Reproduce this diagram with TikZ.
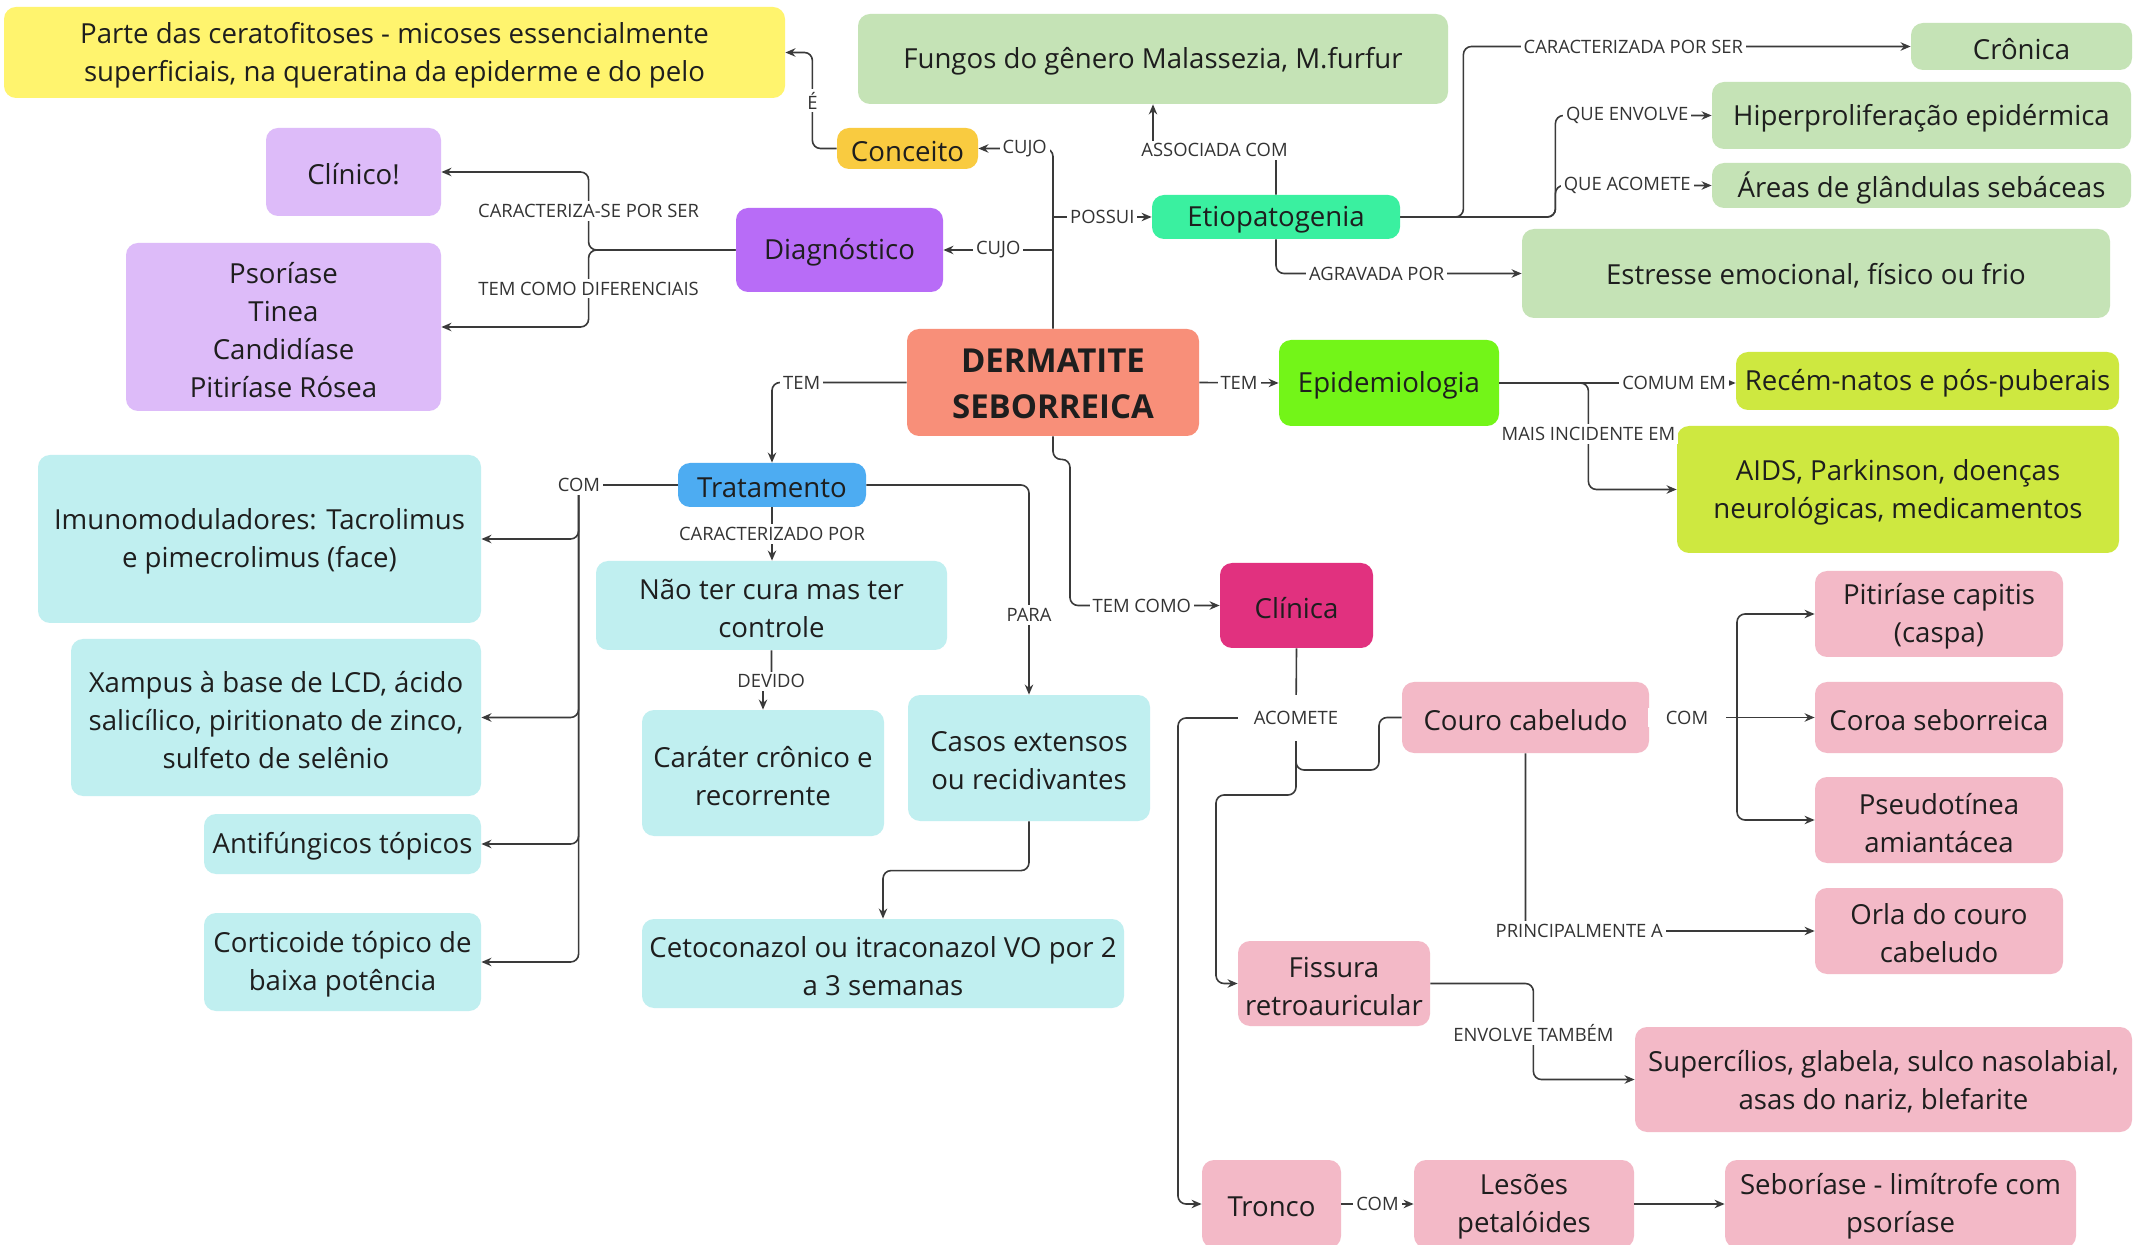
\documentclass[tikz,border=0pt]{standalone}
\usepackage{fontspec}
\setmainfont{Open Sans}
\usetikzlibrary{arrows.meta,calc}
\definecolor{cYel}{HTML}{FFF46E}
\definecolor{cGrn}{HTML}{C5E3B6}
\definecolor{cConc}{HTML}{F9CB40}
\definecolor{cLav}{HTML}{DDBBF9}
\definecolor{cDia}{HTML}{B86CF7}
\definecolor{cEtio}{HTML}{3AF0A0}
\definecolor{cDerm}{HTML}{F88F79}
\definecolor{cEpi}{HTML}{73F518}
\definecolor{cLime}{HTML}{CEE840}
\definecolor{cTra}{HTML}{4DACF2}
\definecolor{cCyan}{HTML}{C0EFF0}
\definecolor{cClin}{HTML}{E1317F}
\definecolor{cPink}{HTML}{F3B9C7}
\definecolor{txt}{HTML}{1E1E1E}
\definecolor{lnc}{HTML}{3A3A3A}
\definecolor{lblc}{HTML}{333333}
\tikzset{
  box/.style={rounded corners=6pt, inner sep=0pt},
  boxtext/.style={align=center, inner sep=0pt, text=txt,
    font=\fontsize{13.8}{19}\selectfont},
  conn/.style={draw=lnc, line width=0.8pt, rounded corners=4pt},
  arr/.style={conn, -{Stealth[length=5pt,width=4.2pt]}},
  lbl/.style={fill=white, inner sep=1.5pt, text=lblc, rounded corners=0pt,
    font=\fontsize{9.2}{11}\selectfont},
}
\newcommand{\cmbox}[8][]{%
  \node[box, fill=#7, minimum width={(#5-#3)*0.5pt}, minimum height={(#6-#4)*0.5pt}]
    (#2) at ({(#3+#5)/2},{(#4+#6)/2}) {};
  \node[boxtext, #1] at ([yshift=-1.3pt]#2.center) {#8};}
\begin{document}
\begin{tikzpicture}[x=0.5pt,y=-0.5pt]
\useasboundingbox (0,0) rectangle (2142,1245);
\fill[white] (0,0) rectangle (2142,1245);

% ---------- boxes ----------
\cmbox{yel}{4}{7}{785}{98}{cYel}{Parte das ceratofitoses - micoses essencialmente\\superficiais, na queratina da epiderme e do pelo}
\cmbox{fun}{858}{14}{1448}{104}{cGrn}{Fungos do gênero Malassezia, M.furfur}
\cmbox{conc}{837}{128}{978}{169}{cConc}{Conceito}
\cmbox{cli}{266}{128}{441}{216}{cLav}{Clínico!}
\cmbox{dia}{736}{208}{943}{292}{cDia}{Diagnóstico}
\cmbox{pso}{126}{243}{441}{411}{cLav}{Psoríase\\Tinea\\Candidíase\\Pitiríase Rósea}
\cmbox{etio}{1152}{195}{1400}{239}{cEtio}{Etiopatogenia}
\cmbox{cro}{1911}{23}{2132}{70}{cGrn}{Crônica}
\cmbox{hip}{1712}{82}{2131}{149}{cGrn}{Hiperproliferação epidérmica}
\cmbox{are}{1712}{163}{2131}{208}{cGrn}{Áreas de glândulas sebáceas}
\cmbox{est}{1522}{229}{2110}{318}{cGrn}{Estresse emocional, físico ou frio}
\cmbox[font=\bfseries\fontsize{16.5}{23}\selectfont, yshift=0.8pt]{derm}{907}{329}{1199}{436}{cDerm}{DERMATITE\\SEBORREICA}
\cmbox{epi}{1279}{340}{1499}{426}{cEpi}{Epidemiologia}
\cmbox{rec}{1736}{352}{2119}{410}{cLime}{Recém-natos e pós-puberais}
\cmbox{aid}{1677}{426}{2119}{553}{cLime}{AIDS, Parkinson, doenças\\neurológicas, medicamentos}
\cmbox{tra}{678}{463}{866}{507}{cTra}{Tratamento}
\cmbox{imu}{38}{455}{481}{623}{cCyan}{Imunomoduladores: Tacrolimus\\e pimecrolimus (face)}
\cmbox{ntc}{596}{561}{947}{650}{cCyan}{Não ter cura mas ter\\controle}
\cmbox{xam}{71}{639}{481}{796}{cCyan}{Xampus à base de LCD, ácido\\salicílico, piritionato de zinco,\\sulfeto de selênio}
\cmbox{car}{642}{710}{884}{836}{cCyan}{Caráter crônico e\\recorrente}
\cmbox{cas}{908}{695}{1150}{821}{cCyan}{Casos extensos\\ou recidivantes}
\cmbox{clin}{1220}{563}{1373}{648}{cClin}{Clínica}
\cmbox{ant}{204}{814}{481}{874}{cCyan}{Antifúngicos tópicos}
\cmbox{cor}{204}{913}{481}{1011}{cCyan}{Corticoide tópico de\\baixa potência}
\cmbox{ceto}{642}{919}{1124}{1008}{cCyan}{Cetoconazol ou itraconazol VO por 2\\a 3 semanas}
\cmbox{cou}{1402}{682}{1649}{753}{cPink}{Couro cabeludo}
\cmbox{pit}{1815}{571}{2063}{657}{cPink}{Pitiríase capitis\\(caspa)}
\cmbox{coro}{1815}{682}{2063}{753}{cPink}{Coroa seborreica}
\cmbox{pse}{1815}{777}{2063}{863}{cPink}{Pseudotínea\\amiantácea}
\cmbox{orl}{1815}{888}{2063}{974}{cPink}{Orla do couro\\cabeludo}
\cmbox{fis}{1238}{941}{1430}{1026}{cPink}{Fissura\\retroauricular}
\cmbox{sup}{1635}{1027}{2132}{1132}{cPink}{Supercílios, glabela, sulco nasolabial,\\asas do nariz, blefarite}
\cmbox{tro}{1202}{1160}{1341}{1248}{cPink}{Tronco}
\cmbox{les}{1414}{1160}{1634}{1248}{cPink}{Lesões\\petalóides}
\cmbox{seb}{1725}{1160}{2076}{1248}{cPink}{Seboríase - limítrofe com\\psoríase}

% ---------- connectors ----------
\draw[arr] (derm.north) |- (conc.east) node[lbl,pos=0.69]{CUJO};
\draw[arr] (derm.north |- dia.east) -- (dia.east) node[lbl,midway]{CUJO};
\draw[arr] (derm.north |- etio.west) -- (etio.west) node[lbl,midway]{POSSUI};

\draw[arr] (conc.west) -| ($(yel.east)+(27,0)$) node[lbl,pos=0.75]{É} -- (yel.east);

\draw[arr] (etio.north) |- ($(fun.south)+(0,46)$) node[lbl,pos=0.75]{ASSOCIADA COM} -- (fun.south);

\draw[arr] (etio.east) -- ++(63,0) |- (cro.west) node[lbl,pos=0.69]{CARACTERIZADA POR SER};
\draw[arr] (etio.east) -- ++(155,0) |- (hip.west) node[lbl,pos=0.73]{QUE ENVOLVE};
\draw[arr] (etio.east) -- ++(155,0) |- (are.west) node[lbl,pos=0.73]{QUE ACOMETE};
\draw[arr] (etio.south) |- (est.west) node[lbl,pos=0.705]{AGRAVADA POR};

\draw[arr] (dia.west) -- ++(-147,0) |- (cli.east) node[lbl,pos=0.25]{CARACTERIZA-SE POR SER};
\draw[arr] (dia.west) -- ++(-147,0) |- (pso.east) node[lbl,pos=0.25]{TEM COMO DIFERENCIAIS};

\draw[arr] (derm.west) -| (tra.north) node[lbl,pos=0.39]{TEM};
\draw[arr] (derm.east) -- (epi.west) node[lbl,midway]{TEM};

\draw[arr] (epi.east) -- (epi.east -| rec.west) node[lbl,pos=0.74]{COMUM EM};
\draw[arr] (epi.east) -- ++(89,0) |- (aid.west) node[lbl,pos=0.24]{MAIS INCIDENTE EM};

\draw[arr] (derm.south) |- ++(17,23) |- (clin.west) node[lbl,pos=0.74]{TEM COMO};

\draw[arr] (tra.west) -- ++(-99,0) |- (imu.east);
\draw[arr] (tra.west) -- ++(-99,0) |- (xam.east);
\draw[arr] (tra.west) -- ++(-99,0) |- (ant.east);
\draw[arr] (tra.west) -- ++(-99,0) |- (cor.east);
\node[lbl] (comT) at (579,485) {COM};

\draw[arr] (tra.south) -- (tra.south |- ntc.north) node[lbl,midway]{CARACTERIZADO POR};
\draw[arr] (ntc.south) -- ++(0,31) -| (car.north) node[lbl,pos=0.02]{DEVIDO};
\draw[arr] (tra.east) -| (cas.north) node[lbl,pos=0.81]{PARA};
\draw[arr] (cas.south) |- ($(ceto.north)+(0,-48)$) -- (ceto.north);

\coordinate (acoP) at (1296,718);
\draw[conn] (clin.south) -- (acoP);
\draw[arr] (acoP) -- (1178,718) |- (tro.west);
\draw[arr] (acoP) |- (1216,795) |- (fis.west);
\draw[conn] (acoP) |- (1379,770) |- (cou.west);
\node[lbl, inner sep=8pt] (aco) at (acoP) {ACOMETE};

\coordinate (comP) at (1737,717.5);
\draw[conn] (cou.east) -- (comP);
\draw[arr] (comP) -- (coro.west);
\draw[arr] (comP) |- (pit.west);
\draw[arr] (comP) |- (pse.west);
\node[lbl, inner xsep=9pt] (comC) at (1687,717.5) {COM};

\draw[arr] (cou.south) |- (orl.west) node[lbl,pos=0.593]{PRINCIPALMENTE A};
\draw[arr] (fis.east) -- ++(103,0) |- (sup.west) node[lbl,pos=0.26]{ENVOLVE TAMBÉM};

\draw[arr] (tro.east) -- (les.west) node[lbl,midway]{COM};
\draw[arr] (les.east) -- (seb.west);
\end{tikzpicture}
\end{document}
